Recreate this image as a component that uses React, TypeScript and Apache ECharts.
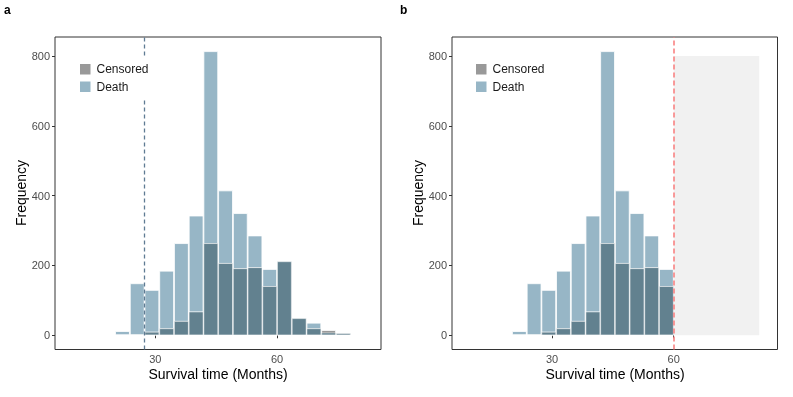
import React, { useEffect, useRef } from "react";
import * as echarts from "echarts";

// Histogram bin midpoints (months)
const binMid = [21.92, 25.55, 29.17, 32.8, 36.43, 40.06, 43.68, 47.31, 50.94, 54.56, 58.19, 61.81, 65.44, 69.07, 72.7, 76.32];
// Frequencies per bin
const deathCounts = [12, 149, 130, 185, 264, 343, 814, 415, 350, 286, 190, 212, 49, 36, 8, 7];
const censoredCounts = [0, 0, 10, 20, 41, 68, 264, 207, 192, 195, 141, 212, 49, 20, 15, 6];
// Panel b only keeps bins up to 60 months
const panelBBins = 11;
const xTicks = [30, 60];
const yTicks = [0, 200, 400, 600, 800];
const panelALine = 27.2;
const panelBLine = 60;
const shadeStart = 60;
const shadeEnd = 81.1;
const shadeTop = 800;

const C_DEATH = "#97b6c6";
const C_CENS = "#999999";
const C_BOTH = "#62818f";
const FONT = "'Liberation Sans', Arial, Helvetica, sans-serif";
const BAR_W = 14.7;

function pairs(mids: number[], vals: number[]) {
  return mids.map((m, i) => [m, vals[i]]);
}

function panelSeries(idx: number, mids: number[], death: number[], cens: number[], extraDeath: any, extraBoth: any) {
  const both = death.map((d, i) => Math.min(d, cens[i]));
  const common = {
    type: "bar",
    xAxisIndex: idx,
    yAxisIndex: idx,
    barWidth: BAR_W,
    barGap: "-100%",
    silent: true,
  };
  return [
    {
      ...common,
      name: "Death",
      data: pairs(mids, death),
      itemStyle: { color: C_DEATH, borderColor: "#ffffff", borderWidth: 0.8 },
      ...extraDeath,
    },
    {
      ...common,
      name: "Censored",
      data: pairs(mids, cens),
      itemStyle: { color: C_CENS, borderColor: "#ffffff", borderWidth: 0.8 },
    },
    {
      ...common,
      name: "Both",
      data: pairs(mids, both),
      itemStyle: { color: C_BOTH, borderColor: "rgba(255,255,255,0.6)", borderWidth: 0.8 },
      ...extraBoth,
    },
  ];
}

function xAxisCfg(idx: number) {
  return {
    type: "value",
    gridIndex: idx,
    min: 5.3,
    max: 85.6,
    axisLine: { show: false },
    splitLine: { show: false },
    axisTick: { show: true, customValues: xTicks, length: 3, lineStyle: { color: "#333333" } },
    axisLabel: { customValues: xTicks, fontSize: 11, color: "#4d4d4d", margin: 4, fontFamily: FONT },
  };
}

function yAxisCfg(idx: number) {
  return {
    type: "value",
    gridIndex: idx,
    min: -40.7,
    max: 854.7,
    axisLine: { show: false },
    splitLine: { show: false },
    axisTick: { show: true, customValues: yTicks, length: 3, lineStyle: { color: "#333333" } },
    axisLabel: { customValues: yTicks, fontSize: 11, color: "#4d4d4d", margin: 5, fontFamily: FONT },
  };
}

function legendCfg(left: number) {
  return {
    data: ["Censored", "Death"],
    orient: "vertical",
    left,
    top: 58,
    icon: "rect",
    itemWidth: 12.5,
    itemHeight: 12.5,
    itemGap: 3,
    padding: [4, 4, 4, 4],
    backgroundColor: "#ffffff",
    selectedMode: false,
    textStyle: { fontSize: 12, color: "#1a1a1a", fontFamily: FONT },
    z: 10,
  };
}

export default function App() {
  const ref = useRef<HTMLDivElement>(null);
  useEffect(() => {
    if (!ref.current) return;
    const chart = echarts.init(ref.current, null, { renderer: "svg" });
    const seriesA = panelSeries(0, binMid, deathCounts, censoredCounts, {}, {
      markLine: {
        silent: true,
        symbol: "none",
        label: { show: false },
        lineStyle: { color: "#5f7b93", type: [4, 3], width: 1.3 },
        data: [{ xAxis: panelALine }],
      },
    });
    const seriesB = panelSeries(
      1,
      binMid.slice(0, panelBBins),
      deathCounts.slice(0, panelBBins),
      censoredCounts.slice(0, panelBBins),
      {
        markArea: {
          silent: true,
          itemStyle: { color: "#f1f1f1" },
          data: [[{ xAxis: shadeStart, yAxis: 0 }, { xAxis: shadeEnd, yAxis: shadeTop }]],
        },
      },
      {
        markLine: {
          silent: true,
          symbol: "none",
          label: { show: false },
          lineStyle: { color: "#f98383", type: [5, 3], width: 1.6 },
          data: [{ xAxis: panelBLine }],
        },
      }
    );
    const titleStyle = { fontSize: 14, fill: "#000000", fontFamily: FONT };
    chart.setOption({
      animation: false,
      textStyle: { fontFamily: FONT },
      grid: [
        { left: 55, top: 37, width: 326, height: 312.5, show: true, borderColor: "#333333", borderWidth: 1, backgroundColor: "transparent" },
        { left: 452, top: 37, width: 325.5, height: 312.5, show: true, borderColor: "#333333", borderWidth: 1, backgroundColor: "transparent" },
      ],
      xAxis: [xAxisCfg(0), xAxisCfg(1)],
      yAxis: [yAxisCfg(0), yAxisCfg(1)],
      legend: [legendCfg(74), legendCfg(470)],
      series: [...seriesA, ...seriesB],
      graphic: [
        { type: "text", left: 4, top: 4, style: { text: "a", fontSize: 12, fontWeight: "bold", fill: "#000", fontFamily: FONT } },
        { type: "text", left: 400, top: 4, style: { text: "b", fontSize: 12, fontWeight: "bold", fill: "#000", fontFamily: FONT } },
        { type: "text", x: 218, y: 374, style: { ...titleStyle, text: "Survival time (Months)", align: "center", verticalAlign: "middle" } },
        { type: "text", x: 615, y: 374, style: { ...titleStyle, text: "Survival time (Months)", align: "center", verticalAlign: "middle" } },
        { type: "text", x: 21, y: 193, rotation: Math.PI / 2, style: { ...titleStyle, text: "Frequency", align: "center", verticalAlign: "middle" } },
        { type: "text", x: 418, y: 193, rotation: Math.PI / 2, style: { ...titleStyle, text: "Frequency", align: "center", verticalAlign: "middle" } },
      ],
    });
    return () => chart.dispose();
  }, []);
  return <div ref={ref} style={{ position: "fixed", left: 0, top: 0, width: 793, height: 397 }} />;
}
